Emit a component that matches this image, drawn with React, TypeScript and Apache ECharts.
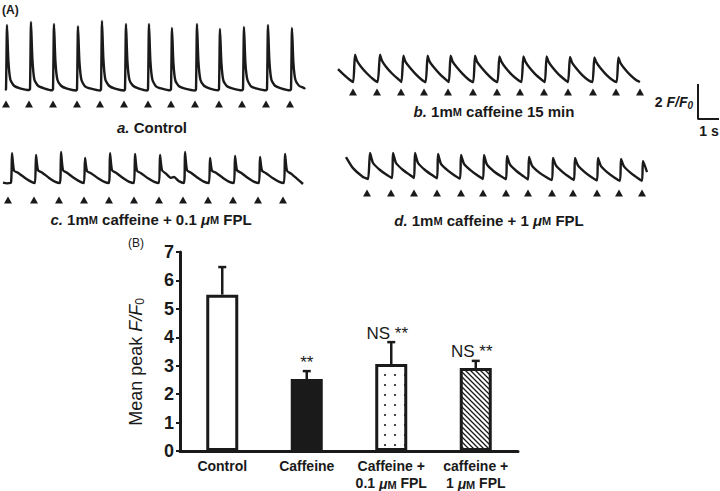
import React, { useEffect, useRef } from 'react';
import * as echarts from 'echarts';

const FONT = '"Liberation Sans", Arial, Helvetica, sans-serif';
const INK = '#1a1a1a';

// ---- Panel A: fluorescence traces, [time (s), F/F0] ----
const traceControl: number[][] = [
  [0, 1.0], [0.05, 1.05], [0.1, 4.82], [0.17, 2.7], [0.27, 1.6], [0.45, 1.25], [0.75, 1.1], [1.2, 1.0],
  [1.25, 1.05], [1.3, 5.0], [1.37, 2.8], [1.47, 1.6], [1.65, 1.25], [1.95, 1.1], [2.35, 0.98],
  [2.4, 1.05], [2.45, 4.88], [2.52, 2.7], [2.62, 1.6], [2.8, 1.25], [3.1, 1.08], [3.55, 0.97],
  [3.6, 1.05], [3.65, 4.76], [3.72, 2.7], [3.82, 1.6], [4.0, 1.22], [4.3, 1.08], [4.75, 0.97],
  [4.8, 1.05], [4.85, 5.06], [4.92, 2.8], [5.02, 1.6], [5.2, 1.25], [5.5, 1.08], [5.95, 0.97],
  [6.0, 1.05], [6.05, 4.88], [6.12, 2.7], [6.22, 1.6], [6.4, 1.25], [6.7, 1.08], [7.1, 0.97],
  [7.15, 1.05], [7.2, 4.88], [7.27, 2.7], [7.37, 1.6], [7.55, 1.22], [7.85, 1.08], [8.25, 0.98],
  [8.3, 1.05], [8.35, 4.65], [8.42, 2.6], [8.52, 1.55], [8.7, 1.22], [9.0, 1.08], [9.5, 0.97],
  [9.55, 1.05], [9.6, 4.88], [9.67, 2.7], [9.77, 1.6], [9.95, 1.25], [10.25, 1.08], [10.65, 0.98],
  [10.7, 1.05], [10.75, 4.59], [10.82, 2.6], [10.92, 1.55], [11.1, 1.22], [11.4, 1.08], [11.85, 0.98],
  [11.9, 1.05], [11.95, 4.71], [12.02, 2.6], [12.12, 1.6], [12.3, 1.22], [12.6, 1.08], [13.05, 0.98],
  [13.1, 1.05], [13.15, 4.82], [13.22, 2.7], [13.32, 1.6], [13.5, 1.25], [13.8, 1.1], [14.25, 0.98],
  [14.3, 1.05], [14.35, 4.65], [14.42, 2.6], [14.52, 1.6], [14.7, 1.25], [14.95, 1.12], [15.0, 1.05],
];
const stimControl = [0.05, 1.2, 2.4, 3.6, 4.75, 5.95, 7.15, 8.3, 9.5, 10.7, 11.85, 13.05, 14.25];

const traceCaffeine: number[][] = [
  [0, 1.76], [0.3, 1.42], [0.6, 1.12], [0.76, 1.0],
  [0.85, 2.6], [0.95, 2.25], [1.15, 1.9], [1.45, 1.5], [1.75, 1.18], [1.98, 1.0],
  [2.1, 2.6], [2.2, 2.25], [2.4, 1.9], [2.7, 1.5], [3.0, 1.18], [3.17, 1.0],
  [3.27, 2.55], [3.37, 2.2], [3.57, 1.88], [3.87, 1.48], [4.17, 1.15], [4.38, 1.0],
  [4.48, 2.55], [4.58, 2.2], [4.78, 1.88], [5.08, 1.48], [5.38, 1.15], [5.54, 1.0],
  [5.63, 2.55], [5.73, 2.2], [5.93, 1.88], [6.23, 1.48], [6.53, 1.15], [6.76, 1.0],
  [6.85, 2.55], [6.95, 2.2], [7.15, 1.88], [7.45, 1.48], [7.75, 1.15], [7.97, 1.0],
  [8.07, 2.5], [8.17, 2.2], [8.37, 1.85], [8.67, 1.45], [8.97, 1.15], [9.17, 1.0],
  [9.27, 2.5], [9.37, 2.2], [9.57, 1.85], [9.87, 1.45], [10.17, 1.15], [10.34, 1.0],
  [10.43, 2.5], [10.53, 2.18], [10.73, 1.85], [11.03, 1.45], [11.33, 1.15], [11.5, 1.0],
  [11.6, 2.48], [11.7, 2.15], [11.9, 1.82], [12.2, 1.42], [12.5, 1.12], [12.72, 1.0],
  [12.82, 2.45], [12.92, 2.15], [13.12, 1.82], [13.42, 1.42], [13.72, 1.12], [13.93, 1.0],
  [14.02, 2.45], [14.12, 2.12], [14.32, 1.8], [14.62, 1.4], [14.92, 1.1], [15.1, 1.0],
];
const stimCaffeine = [0.75, 1.95, 3.15, 4.3, 5.5, 6.75, 7.95, 9.1, 10.3, 11.5, 12.75, 13.9, 15.1];

const traceFpl01: number[][] = [
  [0, 1.02], [0.2, 0.98], [0.4, 1.02],
  [0.45, 2.76], [0.55, 1.72], [0.75, 1.6], [1.1, 1.3], [1.45, 1.05], [1.6, 1.0],
  [1.65, 2.65], [1.75, 1.75], [1.95, 1.62], [2.3, 1.3], [2.65, 1.05], [2.85, 1.0],
  [2.9, 2.82], [3.0, 1.75], [3.2, 1.6], [3.55, 1.3], [3.9, 1.05], [4.05, 1.0],
  [4.1, 2.47], [4.2, 1.7], [4.4, 1.58], [4.75, 1.28], [5.1, 1.05], [5.3, 1.0],
  [5.35, 2.76], [5.45, 1.75], [5.65, 1.6], [6.0, 1.3], [6.35, 1.05], [6.55, 1.0],
  [6.6, 2.71], [6.7, 1.72], [6.9, 1.58], [7.25, 1.28], [7.6, 1.05], [7.8, 1.0],
  [7.85, 2.65], [7.95, 1.75], [8.15, 1.55], [8.4, 1.3], [8.55, 1.35], [8.8, 1.1], [9.05, 1.0],
  [9.1, 2.82], [9.2, 1.75], [9.4, 1.6], [9.75, 1.3], [10.1, 1.05], [10.3, 1.0],
  [10.35, 2.47], [10.45, 1.72], [10.65, 1.6], [11.0, 1.3], [11.35, 1.05], [11.55, 1.0],
  [11.6, 2.59], [11.7, 1.75], [11.9, 1.6], [12.25, 1.3], [12.6, 1.05], [12.8, 1.0],
  [12.85, 2.53], [12.95, 1.72], [13.15, 1.58], [13.5, 1.28], [13.85, 1.05], [14.05, 1.0],
  [14.1, 2.71], [14.2, 1.72], [14.4, 1.55], [14.75, 1.2], [15.0, 0.94],
];
const stimFpl01 = [0.25, 1.55, 2.8, 4.05, 5.3, 6.55, 7.8, 9.0, 10.25, 11.5, 12.75, 14.0];

const traceFpl1: number[][] = [
  [0, 2.35], [0.35, 1.7], [0.85, 1.18], [1.1, 1.06],
  [1.2, 2.59], [1.35, 2.0], [1.7, 1.59], [2.05, 1.29], [2.3, 1.12],
  [2.35, 2.59], [2.5, 2.0], [2.85, 1.59], [3.2, 1.29], [3.4, 1.12],
  [3.45, 2.59], [3.6, 2.0], [3.95, 1.59], [4.3, 1.29], [4.55, 1.1],
  [4.6, 2.53], [4.75, 1.95], [5.1, 1.55], [5.45, 1.25], [5.7, 1.08],
  [5.75, 2.47], [5.9, 1.95], [6.25, 1.55], [6.6, 1.25], [6.85, 1.06],
  [6.9, 2.47], [7.05, 1.9], [7.4, 1.5], [7.75, 1.22], [8.0, 1.05],
  [8.05, 2.41], [8.2, 1.9], [8.55, 1.5], [8.9, 1.2], [9.1, 1.03],
  [9.15, 2.35], [9.3, 1.85], [9.65, 1.45], [10.0, 1.18], [10.3, 1.0],
  [10.35, 2.29], [10.5, 1.85], [10.85, 1.45], [11.2, 1.15], [11.4, 1.0],
  [11.45, 2.29], [11.6, 1.85], [11.95, 1.45], [12.3, 1.15], [12.55, 0.98],
  [12.6, 2.29], [12.75, 1.82], [13.1, 1.42], [13.45, 1.12], [13.7, 0.96],
  [13.75, 2.24], [13.9, 1.8], [14.25, 1.4], [14.6, 1.1], [14.8, 0.96],
  [14.85, 2.12], [15.05, 1.47],
];
const stimFpl1 = [1.05, 2.25, 3.4, 4.55, 5.75, 6.85, 8.0, 9.1, 10.3, 11.35, 12.55, 13.65, 14.8];

// scale bar: 1 s horizontal, 2 F/F0 vertical
const scaleBar: number[][] = [[0, 2], [0, 0], [1, 0]];

// ---- Panel B: bar chart ----
const barCategories = ['Control', 'Caffeine', 'Caffeine +\n0.1 μM FPL', 'caffeine +\n1 μM FPL'];
const barMeans = [5.5, 2.53, 3.06, 2.92];
const barSem = [0.97, 0.28, 0.77, 0.25];
const sigLabels = ['', '**', 'NS **', 'NS **'];
const yTicks = [0, 1, 2, 3, 4, 5, 6, 7];

function makeDots(): HTMLCanvasElement {
  const c = document.createElement('canvas');
  c.width = 10; c.height = 10;
  const g = c.getContext('2d')!;
  g.fillStyle = '#ffffff'; g.fillRect(0, 0, 10, 10);
  g.fillStyle = INK; g.beginPath(); g.arc(5, 5, 1.1, 0, Math.PI * 2); g.fill();
  return c;
}
function makeHatch(): HTMLCanvasElement {
  const s = 5;
  const c = document.createElement('canvas');
  c.width = s; c.height = s;
  const g = c.getContext('2d')!;
  g.fillStyle = '#ffffff'; g.fillRect(0, 0, s, s);
  g.strokeStyle = INK; g.lineWidth = 1.3;
  g.beginPath();
  g.moveTo(-1, -1); g.lineTo(s + 1, s + 1);
  g.moveTo(-1, s - 1); g.lineTo(1, s + 1);
  g.moveTo(s - 1, -1); g.lineTo(s + 1, 1);
  g.stroke();
  return c;
}

const txt = (size: number, extra: any = {}) => ({
  fontSize: size, fontFamily: FONT, fontWeight: 'bold', fill: INK, color: INK, ...extra,
});

function labelRich(size: number) {
  return {
    b: txt(size, { verticalAlign: 'bottom' }),
    i: txt(size, { fontStyle: 'italic', verticalAlign: 'bottom' }),
    sc: txt(Math.round(size * 0.74), { verticalAlign: 'bottom', padding: [0, 0, 1, 0] }),
  };
}

export default function App() {
  const ref = useRef<HTMLDivElement>(null);
  useEffect(() => {
    document.body.style.margin = '0';
    const chart = echarts.init(ref.current!, null, { renderer: 'svg' });

    const hiddenX = (max: number) => ({ type: 'value', min: 0, max, show: false });
    const hiddenY = (min: number, max: number) => ({ type: 'value', min, max, show: false });

    const traceSeries = (data: number[][], idx: number) => ({
      type: 'line', xAxisIndex: idx, yAxisIndex: idx, data, symbol: 'none', smooth: 0.2,
      clip: false, silent: true, lineStyle: { color: INK, width: 2.4, join: 'round' },
    });
    const stimSeries = (times: number[], level: number, idx: number) => ({
      type: 'scatter', xAxisIndex: idx, yAxisIndex: idx, data: times.map((t) => [t, level]),
      symbol: 'triangle', symbolSize: [8, 7], clip: false, silent: true,
      itemStyle: { color: INK, opacity: 1 },
    });

    const fills = ['#ffffff', INK, { image: makeDots(), repeat: 'repeat' }, { image: makeHatch(), repeat: 'repeat' }];
    const sc = (s: string) => s.replace(/μM/g, '{mu|μ}{sc|M}');

    const option: any = {
      animation: false,
      backgroundColor: '#ffffff',
      grid: [
        { left: 5, top: 5, width: 300, height: 102 },
        { left: 338, top: 48, width: 302, height: 51 },
        { left: 3, top: 149, width: 300, height: 59.5 },
        { left: 346, top: 146, width: 301, height: 51 },
        { left: 698, top: 85, width: 20, height: 34 },
        { left: 180, top: 252, width: 338, height: 199 },
      ],
      xAxis: [
        hiddenX(15), hiddenX(15.1), hiddenX(15), hiddenX(15.05), hiddenX(1),
        {
          type: 'category', data: barCategories,
          axisLine: { lineStyle: { color: INK, width: 3 } },
          axisTick: { show: false },
          axisLabel: {
            interval: 0, margin: 6, color: INK, fontSize: 14, fontWeight: 'bold', fontFamily: FONT,
            lineHeight: 17, formatter: (v: string) => sc(v),
            rich: {
              mu: { fontStyle: 'italic', fontSize: 14, fontWeight: 'bold', verticalAlign: 'bottom' },
              sc: { fontSize: 11, fontWeight: 'bold', verticalAlign: 'bottom', padding: [0, 0, 1, 0] },
            },
          },
        },
      ].map((a: any, i: number) => ({ ...a, gridIndex: i })),
      yAxis: [
        hiddenY(0, 6), hiddenY(0, 3), hiddenY(-0.5, 3), hiddenY(0, 3), hiddenY(0, 2),
        {
          type: 'value', min: yTicks[0], max: yTicks[yTicks.length - 1], interval: 1,
          axisLine: { show: true, lineStyle: { color: INK, width: 3 } },
          axisTick: { show: true, length: 4, lineStyle: { color: INK, width: 2 } },
          splitLine: { show: false },
          axisLabel: { margin: 6, color: INK, fontSize: 18, fontWeight: 'bold', fontFamily: FONT },
        },
      ].map((a: any, i: number) => ({ ...a, gridIndex: i })),
      series: [
        traceSeries(traceControl, 0), stimSeries(stimControl, 0.18, 0),
        traceSeries(traceCaffeine, 1), stimSeries(stimCaffeine, 0.41, 1),
        traceSeries(traceFpl01, 2), stimSeries(stimFpl01, 0.0, 2),
        traceSeries(traceFpl1, 3), stimSeries(stimFpl1, 0.24, 3),
        {
          type: 'line', xAxisIndex: 4, yAxisIndex: 4, data: scaleBar, symbol: 'none', clip: false,
          silent: true, lineStyle: { color: INK, width: 2, cap: 'square' },
        },
        {
          type: 'bar', xAxisIndex: 5, yAxisIndex: 5, barWidth: 32, silent: true,
          data: barMeans.map((v, i) => ({ value: v, itemStyle: { color: fills[i] } })),
          itemStyle: { borderColor: INK, borderWidth: 3 },
        },
        {
          type: 'custom', xAxisIndex: 5, yAxisIndex: 5, z: 5, silent: true,
          data: barMeans.map((m, i) => [i, m, m + barSem[i]]),
          encode: { x: 0, y: [1, 2] },
          renderItem: (params: any, api: any) => {
            const i = api.value(0);
            const p0 = api.coord([i, api.value(1)]);
            const p1 = api.coord([i, api.value(2)]);
            const cap = 8;
            const lab = sigLabels[params.dataIndex];
            const children: any[] = [
              { type: 'line', shape: { x1: p0[0], y1: p0[1], x2: p1[0], y2: p1[1] }, style: { stroke: INK, lineWidth: 2.5 } },
              { type: 'line', shape: { x1: p1[0] - cap / 2, y1: p1[1], x2: p1[0] + cap / 2, y2: p1[1] }, style: { stroke: INK, lineWidth: 2.5 } },
            ];
            if (lab) {
              children.push({
                type: 'text', x: p1[0] + (lab.length > 2 ? -4 : 0), y: p1[1] - 9,
                style: { text: lab, fontSize: 17, fontFamily: FONT, fill: INK, align: 'center', verticalAlign: 'middle', textAlign: 'center', textVerticalAlign: 'middle' },
              });
            }
            return { type: 'group', children };
          },
        },
      ],
      graphic: [
        { type: 'text', x: 2, y: 10, style: { text: '(A)', ...txt(12), align: 'left', verticalAlign: 'middle' } },
        { type: 'text', x: 144, y: 243, style: { text: '(B)', ...txt(12, { fontWeight: 'normal' }), align: 'right', verticalAlign: 'middle' } },
        { type: 'text', x: 152, y: 127, style: { text: '{i|a.}{b| Control}', rich: labelRich(15), align: 'center', verticalAlign: 'middle' } },
        { type: 'text', x: 494, y: 111, style: { text: '{i|b.}{b| 1m}{sc|M}{b| caffeine 15 min}', rich: labelRich(15), align: 'center', verticalAlign: 'middle' } },
        { type: 'text', x: 151, y: 219, style: { text: '{i|c.}{b| 1m}{sc|M}{b| caffeine + 0.1 }{i|μ}{sc|M}{b| FPL}', rich: labelRich(15), align: 'center', verticalAlign: 'middle' } },
        { type: 'text', x: 489, y: 220, style: { text: '{i|d.}{b| 1m}{sc|M}{b| caffeine + 1 }{i|μ}{sc|M}{b| FPL}', rich: labelRich(15), align: 'center', verticalAlign: 'middle' } },
        {
          type: 'text', x: 693, y: 102, style: {
            text: '{b|2 }{i|F/F}{s|0}', align: 'right', verticalAlign: 'middle',
            rich: { b: txt(14), i: txt(14, { fontStyle: 'italic' }), s: txt(10, { fontStyle: 'italic', padding: [6, 0, 0, 0] }) },
          },
        },
        { type: 'text', x: 709, y: 131, style: { text: '1 s', ...txt(14), align: 'center', verticalAlign: 'middle' } },
        {
          type: 'text', x: 136, y: 362, rotation: Math.PI / 2, style: {
            text: '{r|Mean peak }{i|F/F}{s|0}', align: 'center', verticalAlign: 'middle',
            rich: {
              r: txt(18, { fontWeight: 'normal' }),
              i: txt(18, { fontWeight: 'normal', fontStyle: 'italic' }),
              s: txt(12, { fontWeight: 'normal', padding: [8, 0, 0, 0] }),
            },
          },
        },
      ],
    };
    chart.setOption(option);
    return () => chart.dispose();
  }, []);
  return <div ref={ref} style={{ width: 720, height: 491 }} />;
}
